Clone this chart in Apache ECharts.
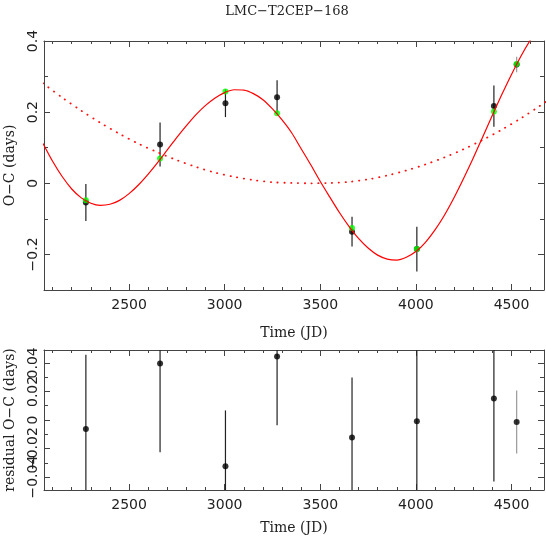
<!DOCTYPE html>
<html>
<head>
<meta charset="UTF-8">
<title>LMC-T2CEP-168</title>
<script src="https://cdn.jsdelivr.net/npm/echarts@6/dist/echarts.min.js"></script>
<style>
  html, body { margin: 0; padding: 0; background: #fff; }
  #chart { width: 546px; height: 542px; }
</style>
</head>
<body>
<div id="chart"></div>
<script>
// observed epochs (JD - 2450000) and O-C values
const times = [2274, 2662, 3004, 3274, 3666, 4005, 4408, 4527];
const ocObs = [-0.054, 0.109, 0.225, 0.242, -0.136, -0.185, 0.217, 0.334];
const ocModel = [-0.048, 0.070, 0.258, 0.197, -0.126, -0.185, 0.202, 0.335];
const ocErr = [0.052, 0.062, 0.039, 0.048, 0.042, 0.063, 0.058, 0.022];
const resid = [-0.0063, 0.0395, -0.0323, 0.0444, -0.0122, -0.0009, 0.0150, -0.0014];

// fitted model (solid)
const fitT = [2050, 2100, 2150, 2200, 2250, 2300, 2350, 2400, 2450, 2500, 2550, 2600, 2650, 2700,
              2750, 2800, 2850, 2900, 2950, 3000, 3050, 3100, 3150, 3200, 3250, 3300, 3350, 3400,
              3450, 3500, 3550, 3600, 3650, 3700, 3750, 3800, 3850, 3900, 3950, 4000, 4050, 4100,
              4150, 4200, 4250, 4300, 4350, 4400, 4450, 4500, 4550, 4600, 4650, 4700];
const fitCurve = [0.112, 0.062, 0.019, -0.016, -0.041, -0.056, -0.062, -0.059, -0.048, -0.029, -0.004, 0.026, 0.059, 0.094,
                  0.129, 0.162, 0.193, 0.219, 0.240, 0.255, 0.263, 0.262, 0.252, 0.235, 0.209, 0.178, 0.142, 0.097,
                  0.052, 0.005, -0.039, -0.082, -0.121, -0.155, -0.182, -0.202, -0.213, -0.216, -0.208, -0.192, -0.166, -0.131,
                  -0.089, -0.040, 0.014, 0.071, 0.131, 0.191, 0.250, 0.306, 0.358, 0.404, 0.444, 0.476];

// parabolic trend (dotted)
const trendT = [2050, 2150, 2250, 2350, 2450, 2550, 2650, 2750, 2850, 2950, 3050, 3150, 3250, 3350,
                3450, 3550, 3650, 3750, 3850, 3950, 4050, 4150, 4250, 4350, 4450, 4550, 4650, 4750];
const trendCurve = [0.281, 0.241, 0.204, 0.170, 0.139, 0.111, 0.087, 0.065, 0.046, 0.030, 0.018, 0.009, 0.003, 0.001,
                    0.000, 0.001, 0.004, 0.011, 0.022, 0.036, 0.053, 0.073, 0.096, 0.122, 0.151, 0.183, 0.218, 0.256];

// ticks
const xMajor = [2500, 3000, 3500, 4000, 4500];
const xMinor = [2100, 2200, 2300, 2400, 2600, 2700, 2800, 2900, 3100, 3200, 3300, 3400,
                3600, 3700, 3800, 3900, 4100, 4200, 4300, 4400, 4600];
const yMajorTop = [-0.2, 0, 0.2, 0.4];
const yMinorTop = [-0.1, 0.1, 0.3];
const yMajorBot = [-0.04, -0.02, 0, 0.02, 0.04];
const yMinorBot = [-0.03, -0.01, 0.01, 0.03];

const serif = 'DejaVu Serif';
const sans = 'DejaVu Sans';
const frame = '#444';
const fmt = v => String(v).replace('-', '\u2212');

const X_MIN = 2055, X_MAX = 4670;

function tick(vals, len) {
    return { show: true, inside: true, length: len, customValues: vals, lineStyle: { color: frame } };
}

function label(vals, extra) {
    return Object.assign({
        show: true, customValues: vals, color: '#222', fontFamily: sans, fontSize: 14,
        formatter: fmt, hideOverlap: false, showMinLabel: true, showMaxLabel: true
    }, extra);
}

function xAxisSet(grid, name, nameGap) {
    const base = { gridIndex: grid, type: 'value', min: X_MIN, max: X_MAX, splitLine: { show: false } };
    return [
        Object.assign({}, base, {
            position: 'bottom',
            axisLine: { show: true, onZero: false, lineStyle: { color: frame } },
            axisTick: tick(xMajor, 6),
            axisLabel: label(xMajor, { margin: 8 }),
            name: name, nameLocation: 'middle', nameGap: nameGap,
            nameTextStyle: { fontFamily: serif, fontSize: 14, color: '#222' }
        }),
        Object.assign({}, base, { position: 'bottom', axisLine: { show: false, onZero: false }, axisTick: tick(xMinor, 3), axisLabel: { show: false } }),
        Object.assign({}, base, { position: 'top', axisLine: { show: true, onZero: false, lineStyle: { color: frame } }, axisTick: tick(xMajor, 6), axisLabel: { show: false } }),
        Object.assign({}, base, { position: 'top', axisLine: { show: false, onZero: false }, axisTick: tick(xMinor, 3), axisLabel: { show: false } })
    ];
}

// labels split over two stacked axes so ECharts keeps the overlapping ones
function yAxisSet(grid, min, max, major, minor, name) {
    const base = { gridIndex: grid, type: 'value', min: min, max: max, splitLine: { show: false } };
    const labA = major.filter((v, i) => i % 2 === 0);
    const labB = major.filter((v, i) => i % 2 === 1);
    return [
        Object.assign({}, base, {
            position: 'left',
            axisLine: { show: true, onZero: false, lineStyle: { color: frame } },
            axisTick: tick(major, 6),
            axisLabel: label(labA, { rotate: 90, margin: 4 }),
            name: name, nameLocation: 'middle', nameGap: 27, nameRotate: 90,
            nameTextStyle: { fontFamily: serif, fontSize: 14, color: '#222' }
        }),
        Object.assign({}, base, {
            position: 'left', axisLine: { show: false, onZero: false }, axisTick: tick(minor, 4),
            axisLabel: label(labB, { rotate: 90, margin: 4 })
        }),
        Object.assign({}, base, { position: 'right', axisLine: { show: true, onZero: false, lineStyle: { color: frame } }, axisTick: tick(major, 6), axisLabel: { show: false } }),
        Object.assign({}, base, { position: 'right', axisLine: { show: false, onZero: false }, axisTick: tick(minor, 4), axisLabel: { show: false } })
    ];
}

function errorBar(params, api) {
    const x = api.value(0);
    const top = api.coord([x, api.value(2)]);
    const bot = api.coord([x, api.value(1)]);
    const cs = params.coordSys;
    const y1 = Math.max(top[1], cs.y);
    const y2 = Math.min(bot[1], cs.y + cs.height);
    const last = params.dataIndex === times.length - 1;
    return {
        type: 'line',
        shape: { x1: top[0], y1: y1, x2: top[0], y2: y2 },
        style: { stroke: last ? '#9a9a9a' : '#222', lineWidth: 1.2 }
    };
}

const obsPts = times.map((t, i) => [t, ocObs[i]]);
const modelPts = times.map((t, i) => [t, ocModel[i]]);
const obsBars = times.map((t, i) => [t, ocObs[i] - ocErr[i], ocObs[i] + ocErr[i]]);
const resPts = times.map((t, i) => [t, resid[i]]);
const resBars = times.map((t, i) => [t, resid[i] - ocErr[i], resid[i] + ocErr[i]]);

const chart = echarts.init(document.getElementById('chart'), null, { renderer: 'canvas' });

chart.setOption({
    animation: false,
    backgroundColor: '#fff',
    title: {
        text: 'LMC\u2212T2CEP\u2212168',
        left: 282, top: 0, textAlign: 'center',
        textStyle: { fontFamily: serif, fontSize: 13, fontWeight: 'normal', color: '#222' }
    },
    grid: [
        { left: 44, top: 41, width: 500, height: 249, outerBoundsMode: 'none', containLabel: false },
        { left: 44, top: 350, width: 500, height: 140, outerBoundsMode: 'none', containLabel: false }
    ],
    xAxis: [].concat(
        xAxisSet(0, 'Time (JD)', 36),
        xAxisSet(1, 'Time (JD)', 31)
    ),
    yAxis: [].concat(
        yAxisSet(0, -0.3, 0.4, yMajorTop, yMinorTop, 'O\u2212C (days)'),
        yAxisSet(1, -0.049, 0.049, yMajorBot, yMinorBot, 'residual O\u2212C (days)')
    ),
    series: [
        {
            type: 'line', xAxisIndex: 0, yAxisIndex: 0,
            data: trendT.map((t, i) => [t, trendCurve[i]]),
            smooth: 0.3, showSymbol: false, clip: true,
            lineStyle: { color: '#ff1010', width: 1.8, type: [0.3, 6.5], cap: 'round' }
        },
        {
            type: 'line', xAxisIndex: 0, yAxisIndex: 0,
            data: fitT.map((t, i) => [t, fitCurve[i]]),
            smooth: 0.3, showSymbol: false, clip: true,
            lineStyle: { color: '#ff0000', width: 1.2 }
        },
        {
            type: 'custom', xAxisIndex: 0, yAxisIndex: 0,
            renderItem: errorBar, data: obsBars, clip: true,
            encode: { x: 0, y: [1, 2] }
        },
        {
            type: 'scatter', xAxisIndex: 0, yAxisIndex: 0,
            data: obsPts, symbolSize: 6, itemStyle: { color: '#000' }
        },
        {
            type: 'scatter', xAxisIndex: 0, yAxisIndex: 0,
            data: modelPts, symbolSize: 6, itemStyle: { color: '#00ff00' }
        },
        {
            type: 'custom', xAxisIndex: 4, yAxisIndex: 4,
            renderItem: errorBar, data: resBars, clip: true,
            encode: { x: 0, y: [1, 2] }
        },
        {
            type: 'scatter', xAxisIndex: 4, yAxisIndex: 4,
            data: resPts, symbolSize: 6, itemStyle: { color: '#000' }
        }
    ]
});
</script>
</body>
</html>
